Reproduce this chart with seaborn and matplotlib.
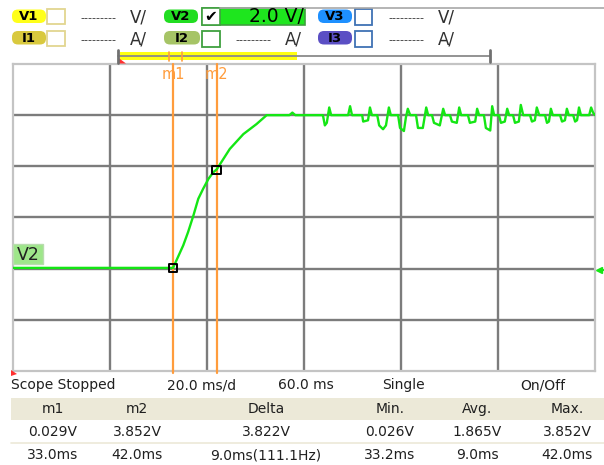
import numpy as np
import pandas as pd
import matplotlib
matplotlib.use("Agg")
import matplotlib.pyplot as plt
import seaborn as sns
from matplotlib.patches import FancyBboxPatch, Rectangle, Polygon

sns.set_style("white")
plt.rcParams['font.family'] = ['DejaVu Sans']

# ---------------- data ----------------
base_t = [0.0, 33.0]
base_v = [0.03, 0.03]
rise_t = [35.1, 36.1, 37.2, 38.2, 39.2, 40.3, 41.3, 42.0, 44.7, 47.5, 50.2, 52.3]
rise_v = [0.91, 1.43, 2.08, 2.73, 3.12, 3.51, 3.77, 3.88, 4.68, 5.26, 5.65, 6.0]
flat_t = [57.0, 57.6, 58.2, 63.7]
flat_v = [6.0, 6.1, 6.0, 6.0]
noise_t = [63.9, 64.3, 64.7, 65.2, 65.6,
           69.1, 69.5, 69.9,
           72.0, 72.2, 73.2, 73.6, 74.0,
           75.1, 75.5, 76.3, 76.9, 77.5, 77.9,
           79.4, 79.8, 80.6, 81.0, 81.4, 81.9,
           83.1, 83.5, 84.5, 85.2, 85.6,
           86.4, 86.8, 88.0, 88.7, 89.1,
           90.1, 90.5, 91.5, 92.0, 92.4,
           93.8, 94.2, 95.3, 95.7, 96.1,
           97.1, 97.5, 98.4, 98.8, 99.2,
           100.2, 100.6, 101.4, 101.9, 102.3,
           103.1, 103.5, 104.3, 104.7, 105.2,
           106.6, 107.0, 107.6, 108.0, 108.5,
           109.7, 110.1, 110.5, 110.9, 111.3,
           112.8, 113.2, 113.8, 114.2, 114.6,
           115.5, 115.9, 116.3, 116.7, 117.1,
           118.8, 119.2, 119.6, 120.0]
noise_v = [6.0, 5.6, 5.7, 6.3, 6.0,
           6.0, 6.35, 6.0,
           6.0, 5.75, 5.8, 6.3, 6.0,
           6.0, 5.6, 5.45, 5.6, 6.3, 6.0,
           6.0, 5.5, 5.38, 5.9, 6.25, 6.0,
           6.0, 5.5, 5.5, 6.3, 6.0,
           6.0, 5.7, 5.6, 6.25, 6.0,
           6.0, 5.75, 5.7, 6.3, 6.0,
           6.0, 5.7, 5.75, 6.25, 6.0,
           6.0, 5.5, 5.4, 6.35, 6.0,
           6.0, 5.7, 5.75, 6.25, 6.0,
           6.0, 5.7, 5.75, 6.4, 6.0,
           6.0, 5.75, 5.8, 6.3, 6.0,
           6.0, 5.7, 5.75, 6.25, 6.0,
           6.0, 5.75, 5.8, 6.25, 6.0,
           6.0, 5.75, 5.8, 6.3, 6.0,
           6.0, 6.3, 6.1, 6.0]

marker_names = ["m1", "m2"]
marker_t = [33.0, 42.0]
marker_v = [0.029, 3.852]

channels_top = ["V1", "V2", "V3"]
channels_bot = ["I1", "I2", "I3"]

status_texts = ["Scope Stopped", "20.0 ms/d", "60.0 ms", "Single", "On/Off"]
table_header = ["m1", "m2", "Delta", "Min.", "Avg.", "Max."]
table_row1 = ["0.029V", "3.852V", "3.822V", "0.026V", "1.865V", "3.852V"]
table_row2 = ["33.0ms", "42.0ms", "9.0ms(111.1Hz)", "33.2ms", "9.0ms", "42.0ms"]

trace = pd.DataFrame({
    "t": base_t + rise_t + flat_t + noise_t,
    "v": base_v + rise_v + flat_v + noise_v,
})
markers = pd.DataFrame({"t": marker_t, "v": marker_v})

# ---------------- figure ----------------
W, H = 604, 465
fig = plt.figure(figsize=(W / 100, H / 100), dpi=100)
fig.patch.set_facecolor("white")

px0, py0, px1, py1 = 13, 64, 595, 371
ax = fig.add_axes([px0 / W, (H - py1) / H, (px1 - px0) / W, (py1 - py0) / H])
ax.set_xlim(0, 120)
ax.set_ylim(-4, 8)
ax.set_xticks([20, 40, 60, 80, 100])
ax.set_yticks([-2, 0, 2, 4, 6])
ax.tick_params(length=0, labelbottom=False, labelleft=False)
ax.grid(True, color="#7c7c7c", lw=1.7)
ax.set_axisbelow(True)
for s in ax.spines.values():
    s.set_color("#c4c4c4")
    s.set_linewidth(1.6)

green = "#14e614"
orange = "#ff9c3c"
for name, t in zip(marker_names, marker_t):
    ax.axvline(t, ymin=-0.008, ymax=1.0, color=orange, lw=1.6, clip_on=False, zorder=3)
    ax.text(t, 7.6, name, color=orange, ha="center", va="center", fontsize=10.5, zorder=4)

sns.lineplot(data=trace, x="t", y="v", sort=False, color=green, lw=1.7, ax=ax,
             estimator=None, zorder=5)
sns.scatterplot(data=markers, x="t", y="v", marker="s", s=38, facecolor="none",
                edgecolor="black", linewidth=1.4, ax=ax, zorder=6)
ax.set_xlabel("")
ax.set_ylabel("")

# ---------------- overlay in pixel coords ----------------
ov = fig.add_axes([0, 0, 1, 1], zorder=5)
ov.set_xlim(0, W)
ov.set_ylim(H, 0)
ov.axis("off")
ov.patch.set_alpha(0)


def pill(x, y, w, h, color, label, tcolor="black"):
    ov.add_patch(FancyBboxPatch((x, y), w, h, boxstyle="round,pad=0,rounding_size=6",
                                facecolor=color, edgecolor="none"))
    ov.text(x + w / 2, y + h / 2 + 0.5, label, ha="center", va="center",
            fontsize=9.5, color=tcolor, fontweight="bold")


def cbox(x, y, w, h, ec):
    ov.add_patch(Rectangle((x, y), w, h, facecolor="white", edgecolor=ec, lw=1.3))


# top gray line
ov.plot([220, 604], [8, 8], color="#a8a8a8", lw=1.2)

pill_x = [12, 164, 318]
pill_top = ["#ffff1a", "#22dd22", "#1e90ff"]
pill_bot = ["#d9c93e", "#a6c466", "#5b4fc4"]
box_ec = ["#e2d690", "#3fa03f", "#3f72b4"]
for i in range(3):
    pill(pill_x[i], 9.5, 34, 13.5, pill_top[i], channels_top[i])
    pill(pill_x[i], 31, 36 if i == 1 else 34, 13.5, pill_bot[i], channels_bot[i])

# checkboxes
cbox(47, 9, 18, 15, box_ec[0]); cbox(47, 31, 18, 15, box_ec[0])
cbox(355, 9, 17, 16, box_ec[2]); cbox(355, 31, 17, 16, box_ec[2])
cbox(202, 31, 18, 16, box_ec[1])
ov.add_patch(Rectangle((202, 8), 103, 17, facecolor="#1ee61e", edgecolor="#3fa03f", lw=1.2))
ov.add_patch(Rectangle((202, 8), 18, 17, facecolor="white", edgecolor="#3fa03f", lw=1.2))
ov.text(211, 17, "\u2714", ha="center", va="center", fontsize=11, color="black")
ov.text(304, 17, "2.0 V/", ha="right", va="center", fontsize=13.5, color="black")

# dashed readouts
for (x, y, unit) in [(80, 17, "V/"), (80, 39, "A/"), (235, 39, "A/"), (388, 17, "V/"), (388, 39, "A/")]:
    ov.text(x, y + 1, "---------", ha="left", va="center", fontsize=8, color="#303030")
    ov.text(x + 50, y, unit, ha="left", va="center", fontsize=12, color="#303030")

# timeline
ov.add_patch(Rectangle((120, 52), 177, 8.5, facecolor="#ffff10", edgecolor="none"))
ov.plot([118, 490], [56.5, 56.5], color="#8a8a8a", lw=1.3)
ov.plot([118, 118], [50, 63], color="#707070", lw=2)
ov.plot([490, 490], [50, 62], color="#707070", lw=2)
for x in [169, 182]:
    ov.plot([x, x], [52, 61], color=orange, lw=1.2)
ov.add_patch(Polygon([(118, 63.5), (118, 57.5), (126, 63.5)], closed=True, facecolor="#ff3030", edgecolor="none"))
ov.add_patch(Polygon([(11, 376), (11, 370), (17, 374)], closed=True, facecolor="#ff3030", edgecolor="none"))

# V2 label
ov.add_patch(Rectangle((13, 244), 30, 20, facecolor="#9ee68a", edgecolor="#b8dcae", lw=1))
ov.text(28, 254.5, "V2", ha="center", va="center", fontsize=12.5, color="#202020")
# right arrow
ov.plot([599, 604], [270, 270], color=green, lw=1.5)
ov.plot([599], [270], marker="<", color=green, markersize=5)

# status line
status_x = [11, 167, 278, 382, 520]
for x, s in zip(status_x, status_texts):
    ov.text(x, 385, s, ha="left", va="center", fontsize=10, color="#202020")

# table
ov.add_patch(Rectangle((11, 398), 593, 22, facecolor="#ece9d8", edgecolor="none"))
ov.plot([11, 604], [442.5, 442.5], color="#ece9d8", lw=1.2)
col_x = [53, 137, 266, 390, 477, 567]
for x, a, b, c in zip(col_x, table_header, table_row1, table_row2):
    ov.text(x, 409, a, ha="center", va="center", fontsize=10, color="#202020")
    ov.text(x, 432, b, ha="center", va="center", fontsize=10, color="#202020")
    ov.text(x, 455, c, ha="center", va="center", fontsize=10, color="#202020")

fig.savefig("out.png", dpi=100, facecolor="white")
